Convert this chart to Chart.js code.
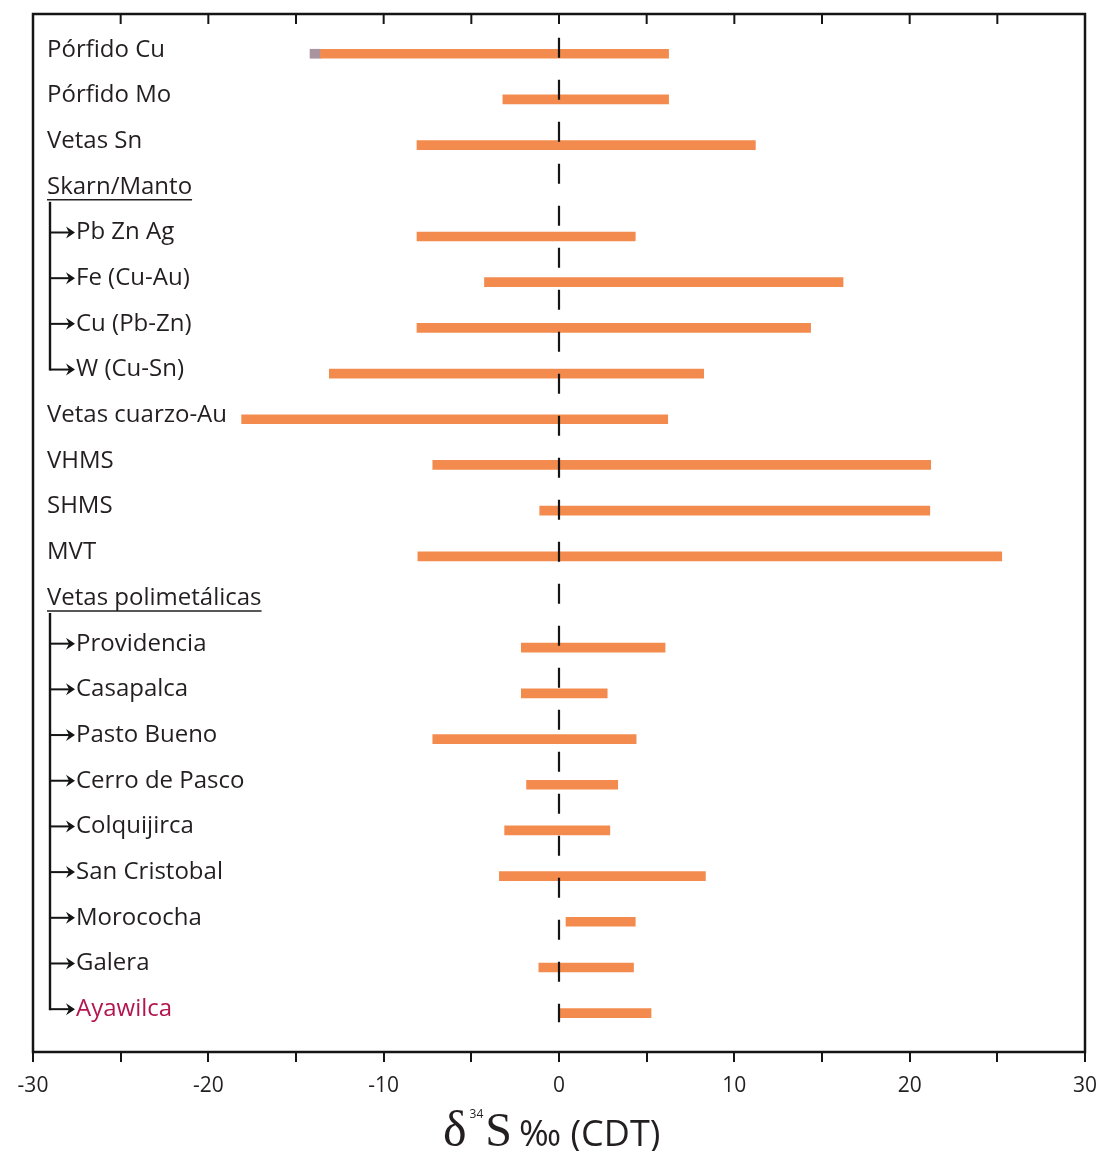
<!DOCTYPE html>
<html>
<head>
<meta charset="utf-8">
<script src="https://cdn.jsdelivr.net/npm/chart.js@4.4.0/dist/chart.umd.min.js"></script>
<style>
  html, body { margin: 0; padding: 0; background: #ffffff; overflow: hidden; }
  #chart { display: block; }
</style>
</head>
<body>
<canvas id="chart" width="1100" height="1151"></canvas>
<script>
// Deposit types (rows, top to bottom)
const rowLabels = [
  'Pórfido Cu', 'Pórfido Mo', 'Vetas Sn', 'Skarn/Manto',
  'Pb Zn Ag', 'Fe (Cu-Au)', 'Cu (Pb-Zn)', 'W (Cu-Sn)',
  'Vetas cuarzo-Au', 'VHMS', 'SHMS', 'MVT', 'Vetas polimetálicas',
  'Providencia', 'Casapalca', 'Pasto Bueno', 'Cerro de Pasco',
  'Colquijirca', 'San Cristobal', 'Morococha', 'Galera', 'Ayawilca'
];
// 'item' = plain row, 'group' = underlined heading, 'sub' = member of the heading above
const rowKinds = [
  'item', 'item', 'item', 'group',
  'sub', 'sub', 'sub', 'sub',
  'item', 'item', 'item', 'item', 'group',
  'sub', 'sub', 'sub', 'sub',
  'sub', 'sub', 'sub', 'sub', 'sub'
];
// δ34S ranges (‰ CDT); null = heading without a bar
const rangeMin = [
  -13.6, -3.2, -8.1, null,
  -8.1, -4.25, -8.1, -13.1,
  -18.1, -7.2, -1.1, -8.05, null,
  -2.15, -2.15, -7.2, -1.85,
  -3.1, -3.4, 0.4, -1.15, 0.0
];
const rangeMax = [
  6.25, 6.25, 11.2, null,
  4.35, 16.2, 14.35, 8.25,
  6.2, 21.2, 21.15, 25.25, null,
  6.05, 2.75, 4.4, 3.35,
  2.9, 8.35, 4.35, 4.25, 5.25
];
// Extended light tail on the porphyry Cu range
const tailMin = [-14.2];
const tailMax = [-13.6];
const tailRows = [0];
// x axis
const xMin = -30, xMax = 30, xStep = 5;
const xTickLabels = [-30, -20, -10, 0, 10, 20, 30];

const highlightRow = 'Ayawilca';

const barData = [];
rangeMin.forEach((lo, i) => {
  if (lo !== null) barData.push({ x: [lo, rangeMax[i]], y: i });
});
const tailData = tailRows.map((r, k) => ({ x: [tailMin[k], tailMax[k]], y: r }));

const SANS = '"Open Sans", "Noto Sans", sans-serif';
const SERIF = '"Liberation Serif", "DejaVu Serif", serif';

const decorPlugin = {
  id: 'decor',
  afterDatasetsDraw(chart) {
    const ctx = chart.ctx;
    const ca = chart.chartArea;
    const xs = chart.scales.x;
    const ys = chart.scales.y;
    ctx.save();

    // dashed reference line at 0 ‰
    const x0 = xs.getPixelForValue(0);
    ctx.strokeStyle = '#151515';
    ctx.lineWidth = 2.2;
    ctx.setLineDash([20, 22]);
    ctx.beginPath();
    ctx.moveTo(x0, ys.getPixelForValue(-0.35));
    ctx.lineTo(x0, ys.getPixelForValue(21.2));
    ctx.stroke();
    ctx.setLineDash([]);

    // frame
    ctx.lineWidth = 2.5;
    ctx.strokeStyle = '#151515';
    ctx.strokeRect(ca.left, ca.top, ca.right - ca.left, ca.bottom - ca.top);

    // inward ticks along the top edge
    ctx.lineWidth = 2;
    xs.ticks.forEach(t => {
      if (t.value === xMin || t.value === xMax) return;
      const px = xs.getPixelForValue(t.value);
      ctx.beginPath();
      ctx.moveTo(px, ca.top);
      ctx.lineTo(px, ca.top + 10);
      ctx.stroke();
    });

    // row labels with tree connectors
    ctx.textBaseline = 'middle';
    ctx.textAlign = 'left';
    ctx.font = '24px ' + SANS;
    const itemX = ca.left + 14;
    const subX = ca.left + 43;
    const trunkX = ca.left + 17;
    let groupStart = null;
    const groups = [];
    rowLabels.forEach((name, i) => {
      const y = ys.getPixelForValue(i) - 4;
      const kind = rowKinds[i];
      ctx.fillStyle = name === highlightRow ? '#B3164E' : '#231f20';
      if (kind === 'sub') {
        ctx.fillText(name, subX, y);
        // branch arrow
        ctx.strokeStyle = '#151515';
        ctx.fillStyle = '#151515';
        ctx.lineWidth = 2;
        ctx.beginPath();
        ctx.moveTo(trunkX, y);
        ctx.lineTo(subX - 6, y);
        ctx.stroke();
        ctx.beginPath();
        ctx.moveTo(subX - 1, y);
        ctx.lineTo(subX - 10, y - 6);
        ctx.lineTo(subX - 7, y);
        ctx.lineTo(subX - 10, y + 6);
        ctx.closePath();
        ctx.fill();
        if (groupStart) groupStart.end = y;
      } else {
        ctx.fillText(name, itemX, y);
        if (kind === 'group') {
          const w = ctx.measureText(name).width;
          ctx.strokeStyle = '#231f20';
          ctx.lineWidth = 1.5;
          ctx.beginPath();
          ctx.moveTo(itemX, y + 13);
          ctx.lineTo(itemX + w, y + 13);
          ctx.stroke();
          groupStart = { start: y + 15, end: y + 15 };
          groups.push(groupStart);
        } else {
          groupStart = null;
        }
      }
    });
    ctx.strokeStyle = '#151515';
    ctx.lineWidth = 2.4;
    groups.forEach(g => {
      ctx.beginPath();
      ctx.moveTo(trunkX, g.start);
      ctx.lineTo(trunkX, g.end + 1);
      ctx.stroke();
    });

    // axis title: δ34S ‰ (CDT)
    ctx.fillStyle = '#231f20';
    ctx.textBaseline = 'alphabetic';
    let tx = 443;
    const base = 1146;
    ctx.font = '50px ' + SERIF;
    ctx.fillText('δ', tx, base);
    tx += ctx.measureText('δ').width + 3;
    ctx.font = '12px ' + SANS;
    ctx.fillText('34', tx, base - 28);
    tx += ctx.measureText('34').width + 2;
    ctx.font = '48px ' + SERIF;
    ctx.fillText('S', tx, base);
    tx += ctx.measureText('S').width + 7;
    ctx.font = '36px ' + SANS;
    ctx.fillText('‰ (CDT)', tx, base);

    ctx.restore();
  }
};

new Chart(document.getElementById('chart'), {
  type: 'bar',
  data: {
    datasets: [
      {
        label: 'δ34S',
        data: barData,
        backgroundColor: '#F28B4D',
        borderWidth: 0,
        barThickness: 9,
        grouped: false
      },
      {
        label: 'tail',
        data: tailData,
        backgroundColor: '#A8939E',
        borderWidth: 0,
        barThickness: 9,
        grouped: false
      }
    ]
  },
  options: {
    indexAxis: 'y',
    responsive: false,
    animation: false,
    devicePixelRatio: 1,
    layout: { padding: { left: 33, right: 15, top: 14, bottom: 0 } },
    plugins: {
      legend: { display: false },
      tooltip: { enabled: false }
    },
    scales: {
      x: {
        type: 'linear',
        position: 'bottom',
        min: xMin,
        max: xMax,
        border: { display: false },
        grid: {
          drawOnChartArea: false,
          drawTicks: true,
          tickLength: 10,
          color: '#151515',
          lineWidth: 2
        },
        ticks: {
          stepSize: xStep,
          autoSkip: false,
          maxRotation: 0,
          padding: 11,
          color: '#231f20',
          font: { family: SANS, size: 21 },
          callback: v => (xTickLabels.includes(v) ? String(v) : '')
        },
        afterFit: scale => {
          scale.height = 99;
          scale.paddingLeft = 0;
          scale.paddingRight = 0;
        }
      },
      y: {
        type: 'linear',
        reverse: true,
        offset: false,
        min: -0.87,
        max: 21.85,
        display: false
      }
    }
  },
  plugins: [decorPlugin]
});
</script>
</body>
</html>
